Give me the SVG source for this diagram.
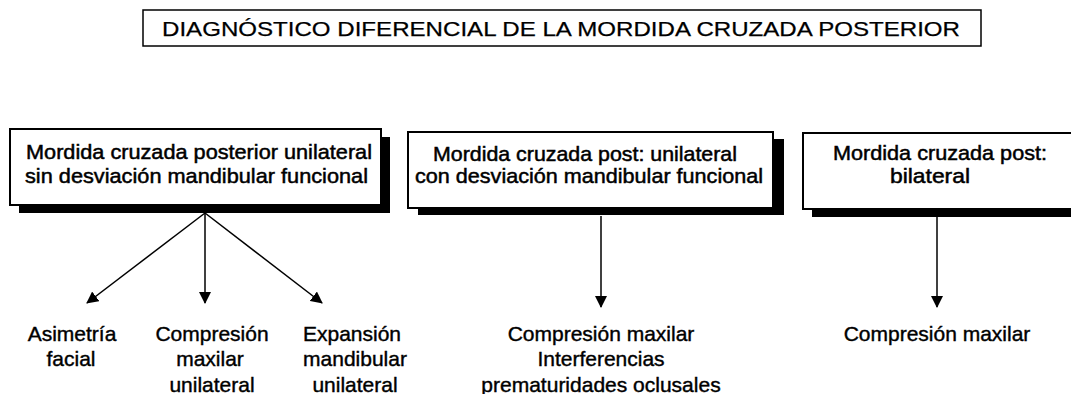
<svg xmlns="http://www.w3.org/2000/svg" width="1071" height="394" viewBox="0 0 1071 394">
<defs>
<style>
text{font-family:"Liberation Sans",Arial,sans-serif;fill:#000;}
.t{font-size:21px;stroke:#000;stroke-width:0.5;}
.tt{font-size:21px;stroke:#000;stroke-width:0.25;}
.lbl{font-size:21px;text-anchor:middle;stroke:#000;stroke-width:0.4;}
.box{fill:#fff;stroke:#000;stroke-width:2;}
.sh{fill:#000;}
.ln{stroke:#000;stroke-width:1.5;fill:none;}
</style>
<marker id="ah" viewBox="0 0 12 12" refX="11" refY="6" markerWidth="12" markerHeight="12" markerUnits="userSpaceOnUse" orient="auto">
<path d="M0,0 L12,6 L0,12 Z" fill="#000"/>
</marker>
</defs>
<rect width="1071" height="394" fill="#fff"/>

<g id="title">
<rect x="143" y="10" width="838" height="36" fill="#fff" stroke="#000" stroke-width="1.5"/>
<text class="tt" x="162" y="36" textLength="798" lengthAdjust="spacingAndGlyphs">DIAGNÓSTICO DIFERENCIAL DE LA MORDIDA CRUZADA POSTERIOR</text>
</g>

<g id="node1">
<rect class="sh" x="19" y="137" width="371" height="76"/>
<rect class="box" x="10" y="129" width="371" height="76"/>
<text class="t" x="26" y="159" textLength="346" lengthAdjust="spacingAndGlyphs">Mordida cruzada posterior unilateral</text>
<text class="t" x="25" y="183" textLength="343" lengthAdjust="spacingAndGlyphs">sin desviación mandibular funcional</text>
</g>

<g id="node2">
<rect class="sh" x="418" y="139" width="366" height="76"/>
<rect class="box" x="408" y="132" width="365" height="76"/>
<text class="t" x="433" y="161" textLength="304" lengthAdjust="spacingAndGlyphs">Mordida cruzada post: unilateral</text>
<text class="t" x="415" y="183" textLength="348" lengthAdjust="spacingAndGlyphs">con desviación mandibular funcional</text>
</g>

<g id="node3">
<rect class="sh" x="812" y="141" width="270" height="76"/>
<rect class="box" x="803" y="133" width="280" height="76"/>
<text class="t" x="833" y="160" textLength="214" lengthAdjust="spacingAndGlyphs">Mordida cruzada post:</text>
<text class="t" x="890" y="183" textLength="80" lengthAdjust="spacingAndGlyphs">bilateral</text>
</g>

<g id="connectors">
<line class="ln" x1="205" y1="213" x2="87" y2="303" marker-end="url(#ah)"/>
<line class="ln" x1="205" y1="213" x2="205" y2="303" marker-end="url(#ah)"/>
<line class="ln" x1="205" y1="213" x2="322" y2="303" marker-end="url(#ah)"/>
<line class="ln" x1="601" y1="216" x2="601" y2="307" marker-end="url(#ah)"/>
<line class="ln" x1="937" y1="217" x2="937" y2="307" stroke-width="2" marker-end="url(#ah)"/>
</g>

<g id="leaf-asimetria">
<text class="lbl" x="72" y="341">Asimetría</text>
<text class="lbl" x="71" y="366">facial</text>
</g>
<g id="leaf-compresion-unilateral">
<text class="lbl" x="212" y="341">Compresión</text>
<text class="lbl" x="210" y="366">maxilar</text>
<text class="lbl" x="212" y="392">unilateral</text>
</g>
<g id="leaf-expansion">
<text class="lbl" x="352" y="341">Expansión</text>
<text class="lbl" x="355" y="366">mandibular</text>
<text class="lbl" x="355" y="392">unilateral</text>
</g>
<g id="leaf-node2">
<text class="lbl" x="601" y="341">Compresión maxilar</text>
<text class="lbl" x="601" y="366">Interferencias</text>
<text class="lbl" x="601" y="392">prematuridades oclusales</text>
</g>
<g id="leaf-node3">
<text class="lbl" x="937" y="341">Compresión maxilar</text>
</g>
</svg>
